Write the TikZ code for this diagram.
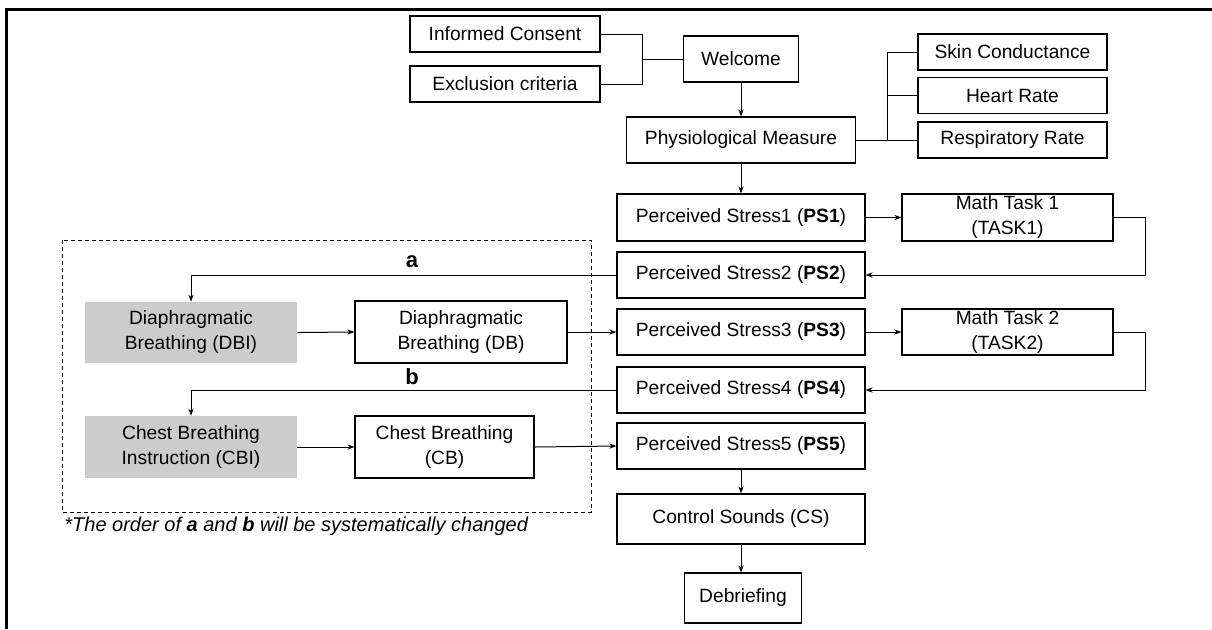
\documentclass[tikz,border=0pt]{standalone}
\usepackage{fontspec}
\setmainfont{Liberation Sans}
\usepackage{xcolor}
\usepackage{tikz}
\usetikzlibrary{positioning,calc,arrows.meta}

\definecolor{instrgray}{RGB}{204,204,204}

\tikzset{
    stage/.style={draw, line width=0.6pt, align=center, inner sep=0pt},
    instr/.style={fill=instrgray, align=center, inner sep=0pt},
    arr/.style={-{Stealth[length=3.5pt,width=2.6pt]}, line width=0.5pt},
    link/.style={line width=0.5pt}
}

\begin{document}
\begin{tikzpicture}[x=0.5pt, y=-0.5pt, font=\fontsize{9.6}{12.5}\selectfont]
    \useasboundingbox (0,0) rectangle (1212,629);

    % Frame
    \draw[line width=1.5pt] (6,629) -- (6,9) -- (1212,9);

    % Entry
    \node[stage, minimum width=95pt, minimum height=18pt] (cons) at (505,34) {Informed Consent};
    \node[stage, minimum width=95pt, minimum height=18pt] (excl) at (505,84) {Exclusion criteria};
    \node[stage, minimum width=57.5pt, minimum height=23pt] (welcome) at (741,59) {Welcome};
    \coordinate (j1) at (642,59);
    \draw[link] (cons.east) -| (j1) -- (welcome.west);
    \draw[link] (excl.east) -| (j1);

    % Physiological measures
    \node[stage, minimum width=114.5pt, minimum height=23pt] (phys) at (741,140) {Physiological Measure};
    \node[stage, minimum width=94.5pt, minimum height=18pt] (skin) at (1012.5,52) {Skin Conductance};
    \node[stage, minimum width=94.5pt, minimum height=18pt] (heart) at (1012.5,95.5) {Heart Rate};
    \node[stage, minimum width=94.5pt, minimum height=18pt] (resp) at (1012.5,140) {Respiratory Rate};
    \coordinate (j2) at (887,140);
    \draw[arr] (welcome.south) -- (phys.north);
    \draw[link] (phys.east) -- (j2) -- (resp.west);
    \draw[link] (j2) |- (skin.west);
    \draw[link] (j2) |- (heart.west);

    % Stress ratings and tasks
    \node[stage, minimum width=124pt, minimum height=23.5pt] (ps1) at (741,217.5) {Perceived Stress1 (\textbf{PS1})};
    \node[stage, minimum width=105.5pt, minimum height=23.5pt] (task1) at (1007.5,217.5) {Math Task 1\\(TASK1)};
    \node[stage, minimum width=124pt, minimum height=23pt] (ps2) at (741,275) {Perceived Stress2 (\textbf{PS2})};
    \node[stage, minimum width=124pt, minimum height=23pt] (ps3) at (741,332) {Perceived Stress3 (\textbf{PS3})};
    \node[stage, minimum width=105.5pt, minimum height=23pt] (task2) at (1007.5,332) {Math Task 2\\(TASK2)};
    \node[stage, minimum width=124pt, minimum height=23pt] (ps4) at (741,390) {Perceived Stress4 (\textbf{PS4})};
    \node[stage, minimum width=124pt, minimum height=23pt] (ps5) at (741,446) {Perceived Stress5 (\textbf{PS5})};
    \node[stage, minimum width=124pt, minimum height=25pt] (sounds) at (741,519) {Control Sounds (CS)};
    \node[stage, minimum width=58.5pt, minimum height=25pt] (debrief) at (743,598) {Debriefing};

    \draw[arr] (phys.south) -- (ps1.north);
    \draw[arr] (ps1.east) -- (task1.west);
    \draw[arr] (task1.east) -- ++(32,0) |- (ps2.east);
    \draw[arr] (ps3.east) -- (task2.west);
    \draw[arr] (task2.east) -- ++(32,0) |- (ps4.east);
    \draw[arr] (ps5.south) -- (sounds.north);
    \draw[arr] (sounds.south) -- (sounds.south |- debrief.north);

    % Breathing conditions
    \draw[line width=0.5pt, dash pattern=on 2pt off 1.5pt] (62,240) rectangle (591,512);
    \node[instr, minimum width=106pt, minimum height=30.5pt] (dbi) at (191,332.5) {Diaphragmatic\\Breathing (DBI)};
    \node[stage, minimum width=106pt, minimum height=31pt] (db) at (461,332) {Diaphragmatic\\Breathing (DB)};
    \node[instr, minimum width=106pt, minimum height=31pt] (cbi) at (191,447) {Chest Breathing\\Instruction (CBI)};
    \node[stage, minimum width=89.5pt, minimum height=31pt] (cb) at (444.5,447) {Chest Breathing\\(CB)};

    \draw[arr] (ps2.west) -| (dbi.north);
    \draw[arr] (dbi.east) -- (db.west);
    \draw[arr] (db.east) -- (ps3.west);
    \draw[arr] (ps4.west) -| (cbi.north);
    \draw[arr] (cbi.east) -- (cb.west);
    \draw[arr] (cb.east) -- (ps5.west);

    \node[font=\fontsize{11}{13}\selectfont\bfseries] (lbla) at (412,262) {a};
    \node[font=\fontsize{11}{13}\selectfont\bfseries] (lblb) at (412,377) {b};

    \node[anchor=west, inner sep=0pt, font=\fontsize{10}{12}\selectfont] (note) at (64,526) {\itshape *The order of \textbf{a} and \textbf{b} will be systematically changed};
\end{tikzpicture}
\end{document}
